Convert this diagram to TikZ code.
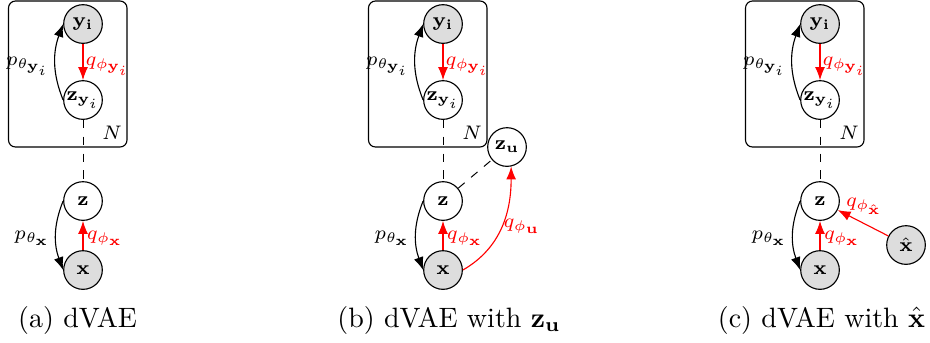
\documentclass[tikz,border=0pt]{standalone}
\usetikzlibrary{arrows.meta}
\definecolor{nodegray}{RGB}{221,221,221}
\tikzset{
  var/.style={circle,draw,line width=0.4pt,inner sep=0pt,minimum size=13.8pt,font=\scriptsize},
  obs/.style={var,fill=nodegray},
  plate/.style={draw,rounded corners=2.5pt,line width=0.4pt},
  tip/.style={-{Latex[length=4.6pt,width=3.5pt]}},
  enc/.style={red,tip,line width=0.4pt},
  dec/.style={black,tip,line width=0.4pt},
  lnk/.style={dashed,line width=0.35pt},
  lbl/.style={font=\scriptsize,inner sep=0pt},
  elbl/.style={lbl,text=red},
  captext/.style={font=\normalsize,anchor=base,inner sep=0pt}
}
\newcommand{\dvaepanel}[2]{%
  \draw[plate] (#2-74.5,-1) rectangle (#2+44,-147);
  \node[lbl] (#1N) at (#2+29,-133) {$N$};
  \node[obs] (#1yi) at (#2,-24) {$\mathbf{y_i}$};
  \node[var] (#1zyi) at (#2,-100) {$\mathbf{z}_{\mathbf{y}_i}$};
  \node[var] (#1z) at (#2,-201) {$\mathbf{z}$};
  \node[obs] (#1x) at (#2,-270) {$\mathbf{x}$};
  \draw[enc] (#1yi) -- (#1zyi);
  \draw[enc] (#1x) -- (#1z);
  \draw[dec] (#1zyi.west) to[out=112,in=250] (#1yi.west);
  \draw[dec] (#1z.west) to[out=-112,in=110] (#1x.west);
  \draw[lnk] (#1zyi) -- (#1z);
  \node[lbl] (#1pyi) at (#2-55,-66) {$p_{\theta_{\mathbf{y}_i}}$};
  \node[elbl] (#1qyi) at (#2+25,-66) {$q_{\phi_{\mathbf{y}_i}}$};
  \node[lbl] (#1px) at (#2-51,-238) {$p_{\theta_{\mathbf{x}}}$};
  \node[elbl] (#1qx) at (#2+22,-238) {$q_{\phi_{\mathbf{x}}}$};
}
\begin{document}
\begin{tikzpicture}[x=0.357pt,y=0.357pt]
\useasboundingbox (0,0) rectangle (930,-342);
% (a)
\dvaepanel{a}{83}
\node[captext] (capa) at (77.5,-327) {(a) dVAE};
% (b)
\dvaepanel{b}{443}
\node[var] (bzu) at (507,-147) {$\mathbf{z_u}$};
\draw[lnk] (bz) -- (bzu);
\draw[enc] (bx.east) to[out=30,in=-90] (bzu.-78);
\node[elbl] (bqu) at (522,-226) {$q_{\phi_{\mathbf{u}}}$};
\node[captext] (capb) at (449,-327) {(b) dVAE with $\mathbf{z_u}$};
% (c)
\dvaepanel{c}{820}
\node[obs] (cxh) at (906,-245) {$\hat{\mathbf{x}}$};
\draw[enc] (cxh) -- (cz);
\node[elbl] (cqxh) at (864,-206) {$q_{\phi_{\hat{\mathbf{x}}}}$};
\node[captext] (capc) at (821.5,-327) {(c) dVAE with $\hat{\mathbf{x}}$};
\end{tikzpicture}
\end{document}
